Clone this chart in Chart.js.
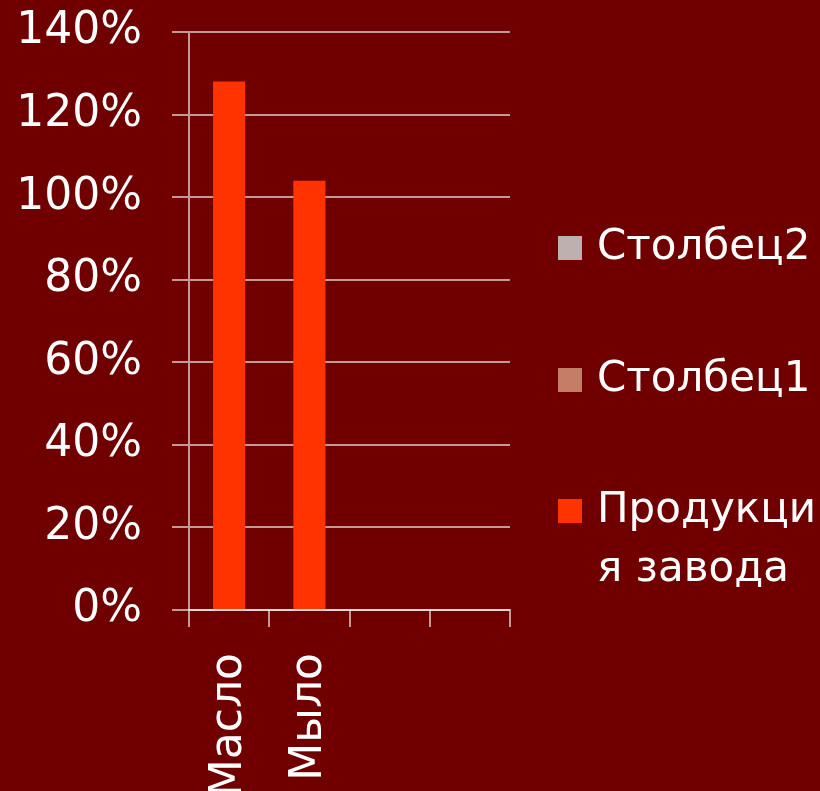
<!DOCTYPE html>
<html>
<head>
<meta charset="utf-8">
<script src="https://cdn.jsdelivr.net/npm/chart.js"></script>
<style>
  html, body { margin: 0; padding: 0; background: #700000; overflow: hidden; }
  #wrap { width: 820px; height: 791px; }
</style>
</head>
<body>
<div id="wrap"><canvas id="c" width="820" height="791"></canvas></div>
<script>
// categories and series
const categories = ['Масло', 'Мыло', '', ''];
const seriesNames = ['Продукция завода', 'Столбец1', 'Столбец2'];
const seriesColors = ['#FF3300', '#C47E68', '#BFB0B0'];
const plantOutput = [128, 104, null, null];
const column1 = [null, null, null, null];
const column2 = [null, null, null, null];
const yTicks = [0, 20, 40, 60, 80, 100, 120, 140];

const FONT = "'DejaVu Sans', sans-serif";
const gridCol = 'rgba(255,255,255,0.6)';

// legend on the right, drawn by hand so the long name wraps like the original
const sideLegend = {
  id: 'sideLegend',
  afterDraw(chart) {
    const ctx = chart.ctx;
    ctx.save();
    ctx.font = '42px ' + FONT;
    ctx.textBaseline = 'middle';
    const boxX = 558, box = 24, textX = 597;
    const maxW = 820 - textX - 2;
    const rows = [248, 380, 511];
    const ds = chart.data.datasets.slice().reverse();
    ds.forEach(function (d, i) {
      // char wrap
      var lines = [], cur = '';
      for (const ch of d.label) {
        if (ctx.measureText(cur + ch).width > maxW && cur.length) {
          lines.push(cur); cur = ch.trim() ? ch : '';
        } else cur += ch;
      }
      if (cur) lines.push(cur);
      const y = rows[i];
      ctx.fillStyle = d.backgroundColor;
      ctx.fillRect(boxX, y - box / 2, box, box);
      ctx.fillStyle = '#ffffff';
      lines.forEach(function (ln, k) {
        ctx.fillText(ln, textX, y + k * 59);
      });
    });
    ctx.restore();
  }
};

new Chart(document.getElementById('c'), {
  type: 'bar',
  data: {
    labels: categories,
    datasets: [
      { label: seriesNames[0], data: plantOutput, backgroundColor: seriesColors[0] },
      { label: seriesNames[1], data: column1, backgroundColor: seriesColors[1] },
      { label: seriesNames[2], data: column2, backgroundColor: seriesColors[2] }
    ]
  },
  options: {
    responsive: false,
    animation: false,
    layout: { padding: { top: 32, right: 310, left: 0, bottom: 0 } },
    datasets: { bar: { categoryPercentage: 1, barPercentage: 0.4 } },
    plugins: { legend: { display: false }, tooltip: { enabled: false } },
    scales: {
      x: {
        stacked: true,
        afterFit: function (s) { s.height = 181; s.paddingTop = 0; s.paddingLeft = 0; s.paddingRight = 0; },
        grid: { drawOnChartArea: false, drawTicks: true, tickLength: 17, color: gridCol, lineWidth: 2, offset: true },
        border: { color: gridCol, width: 2 },
        ticks: {
          color: '#ffffff', font: { family: FONT, size: 44 },
          minRotation: 90, maxRotation: 90, padding: 26, autoSkip: false
        }
      },
      y: {
        stacked: true,
        min: 0, max: 140,
        afterFit: function (s) { s.width = 189; s.paddingTop = 0; s.paddingBottom = 0; },
        afterBuildTicks: function (s) { s.ticks = yTicks.map(function (v) { return { value: v }; }); },
        grid: { color: gridCol, lineWidth: 2, tickLength: 17 },
        border: { color: gridCol, width: 2 },
        ticks: {
          color: '#ffffff', font: { family: FONT, size: 44 }, padding: 30,
          callback: function (v) { return v + '%'; }
        }
      }
    }
  },
  plugins: [sideLegend]
});
</script>
</body>
</html>
